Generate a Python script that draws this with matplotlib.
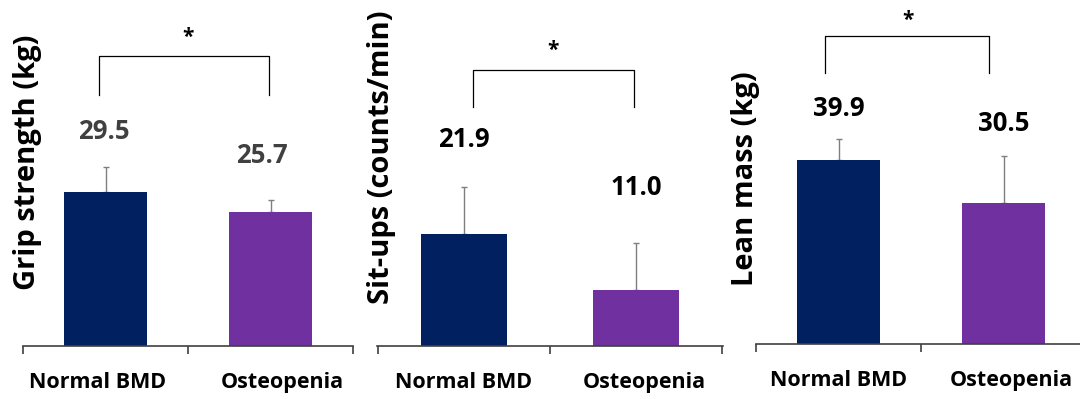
import matplotlib
matplotlib.use("Agg")
import matplotlib.pyplot as plt

plt.rcParams['font.family'] = ['Open Sans', 'DejaVu Sans']

groups = ["Normal BMD", "Osteopenia"]
colors = ['#002060', '#7030A0']

grip = [29.5, 25.7]
grip_err = [4.8, 2.3]
situps = [21.9, 11.0]
situps_err = [9.1, 9.1]
lean = [39.9, 30.5]
lean_err = [4.5, 10.2]

ylabels = ["Grip strength (kg)", "Sit-ups (counts/min)", "Lean mass (kg)"]

W, H = 1080, 399
fig = plt.figure(figsize=(W / 100, H / 100), dpi=100)

# per panel layout (pixels in figure, data units for annotations)
panels = [
    dict(vals=grip, errs=grip_err, x0=23, x1=353, base=346, ymax=66.2, xlim=(-0.5, 1.49),
         lab_y=[41.1, 36.5], lab_x=[-0.01, 0.95], lab_col='#404040',
         br=(-0.04, 0.99, 55.4, 48.0), star=(0.5, 57.0), ticklab_x=[-0.05, 1.07],
         ylab=(28, 162)),
    dict(vals=situps, errs=situps_err, x0=377, x1=723, base=346, ymax=67.4, xlim=(-0.506, 1.506),
         lab_y=[40.2, 30.8], lab_x=[0.0, 1.0], lab_col='black',
         br=(0.05, 0.99, 53.8, 46.6), star=(0.52, 55.6), ticklab_x=[0.0, 1.05],
         ylab=(382, 157)),
    dict(vals=lean, errs=lean_err, x0=756, x1=1086, base=344, ymax=74.5, xlim=(-0.495, 1.5),
         lab_y=[51.1, 47.8], lab_x=[0.0, 1.0], lab_col='black',
         br=(-0.08, 0.91, 66.7, 58.7), star=(0.42, 67.7), ticklab_x=[0.0, 1.05],
         ylab=(746, 179)),
]

for p, ylab in zip(panels, ylabels):
    ax = fig.add_axes([p['x0'] / W, 1 - p['base'] / H, (p['x1'] - p['x0']) / W, p['base'] / H])
    x = [0, 1]
    ax.bar(x, p['vals'], width=0.5, color=colors, zorder=2)
    ax.errorbar(x, p['vals'], yerr=[[0, 0], p['errs']], fmt='none', ecolor='#7f7f7f',
                elinewidth=1, capsize=2, capthick=1, zorder=1)
    ax.set_xlim(*p['xlim'])
    ax.set_ylim(0, p['ymax'])
    for s in ['top', 'right', 'left']:
        ax.spines[s].set_visible(False)
    ax.spines['bottom'].set_color('#404040')
    ax.spines['bottom'].set_linewidth(1.2)
    ax.set_yticks([])
    ax.set_xticks([-0.5, 0.5, 1.5])
    ax.set_xticklabels([])
    ax.tick_params(axis='x', which='major', direction='out', length=6, width=1.2, color='#404040')
    ax.set_xticks(p['ticklab_x'], minor=True)
    ax.set_xticklabels(groups, minor=True, fontsize=15.5, fontweight='bold')
    ax.tick_params(axis='x', which='minor', length=0, pad=19)
    ax.patch.set_alpha(0)

    for xi, yi, v in zip(p['lab_x'], p['lab_y'], p['vals']):
        ax.text(xi, yi, f"{v:.1f}", ha='center', va='center', fontsize=18.5,
                fontweight='bold', color=p['lab_col'])

    bx0, bx1, btop, bbot = p['br']
    ax.plot([bx0, bx0, bx1, bx1], [bbot, btop, btop, bbot], color='black', lw=0.9, clip_on=False)
    ax.text(p['star'][0], p['star'][1], '*', ha='center', va='bottom', fontsize=15,
            fontweight='bold', clip_on=False)

    fig.text(p['ylab'][0] / W, 1 - p['ylab'][1] / H, ylab, rotation=90, ha='center', va='center',
             fontsize=21, fontweight='bold')

fig.savefig("out.png", dpi=100)
